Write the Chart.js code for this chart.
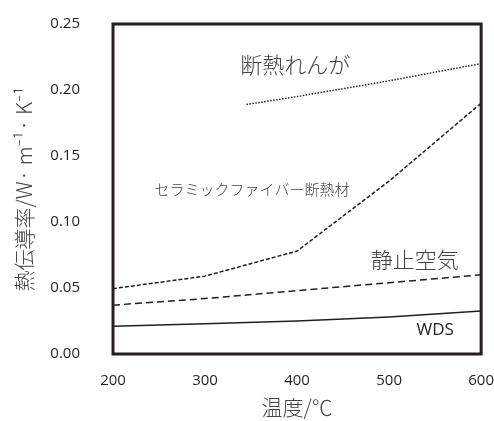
<!DOCTYPE html>
<html>
<head>
<meta charset="utf-8">
<script src="https://cdn.jsdelivr.net/npm/chart.js@4.4.1/dist/chart.umd.min.js"></script>
<style>
    html, body { margin: 0; padding: 0; background: #ffffff; }
    #wrap { width: 494px; height: 421px; }
</style>
</head>
<body>
<div id="wrap"><canvas id="chart" width="494" height="421"></canvas></div>
<script>
// temperature (°C) and thermal conductivity (W·m-1·K-1)
const brickTemps = [345, 400, 500, 600];
const brickValues = [0.189, 0.195, 0.207, 0.220];

const fiberTemps = [200, 300, 400, 500, 600];
const fiberValues = [0.0495, 0.059, 0.078, 0.131, 0.190];

const airTemps = [200, 300, 400, 500, 600];
const airValues = [0.037, 0.042, 0.048, 0.054, 0.060];

const wdsTemps = [200, 300, 400, 500, 600];
const wdsValues = [0.021, 0.023, 0.025, 0.028, 0.0325];

const xTicks = [200, 300, 400, 500, 600];
const yTicks = [0.00, 0.05, 0.10, 0.15, 0.20, 0.25];

const ink = '#231f20';
const jpFont = '"Noto Sans CJK JP", "Noto Sans", sans-serif';
const numFont = '"Open Sans", sans-serif';

function toPoints(xs, ys) {
    return xs.map((x, i) => ({ x: x, y: ys[i] }));
}

// curve labels, anchored in data coordinates
const curveLabels = [
    { text: '断熱れんが', x: 398, y: 0.2195, font: '300 22px ' + jpFont },
    { text: 'セラミックファイバー断熱材', x: 351, y: 0.125, font: '300 15px ' + jpFont },
    { text: '静止空気', x: 528, y: 0.0715, font: '300 22px ' + jpFont },
    { text: 'WDS', x: 550, y: 0.018, font: '17px ' + numFont }
];

const frameAndLabels = {
    id: 'frameAndLabels',
    afterDatasetsDraw(chart) {
        const ctx = chart.ctx;
        const a = chart.chartArea;
        const xs = chart.scales.x;
        const ys = chart.scales.y;
        ctx.save();
        ctx.textAlign = 'center';
        ctx.textBaseline = 'middle';
        curveLabels.forEach(l => {
            ctx.font = l.font;
            ctx.fillStyle = l.text === 'WDS' ? ink : '#444444';
            ctx.fillText(l.text, xs.getPixelForValue(l.x), ys.getPixelForValue(l.y));
        });
        ctx.strokeStyle = ink;
        ctx.lineWidth = 3;
        ctx.strokeRect(a.left, a.top, a.right - a.left, a.bottom - a.top);
        ctx.restore();
    }
};

const lineStyle = {
    showLine: true,
    pointRadius: 0,
    borderColor: ink,
    borderWidth: 1.5,
    fill: false,
    tension: 0
};

// invisible tick marks keep the labels away from the frame
function hiddenTicks(len) {
    return {
        display: true,
        drawOnChartArea: false,
        drawTicks: true,
        tickLength: len,
        color: 'rgba(0,0,0,0)'
    };
}

new Chart(document.getElementById('chart').getContext('2d'), {
    type: 'scatter',
    data: {
        datasets: [
            Object.assign({ label: '断熱れんが', data: toPoints(brickTemps, brickValues), borderDash: [1.5, 1.5] }, lineStyle),
            Object.assign({ label: 'セラミックファイバー断熱材', data: toPoints(fiberTemps, fiberValues), borderDash: [4, 2] }, lineStyle),
            Object.assign({ label: '静止空気', data: toPoints(airTemps, airValues), borderDash: [7, 4] }, lineStyle),
            Object.assign({ label: 'WDS', data: toPoints(wdsTemps, wdsValues) }, lineStyle)
        ]
    },
    options: {
        responsive: false,
        animation: false,
        layout: { padding: { left: 0, top: 24, right: 11, bottom: 0 } },
        plugins: {
            legend: { display: false },
            tooltip: { enabled: false }
        },
        scales: {
            x: {
                type: 'linear',
                min: 200,
                max: 600,
                afterBuildTicks: scale => { scale.ticks = xTicks.map(v => ({ value: v })); },
                afterFit: scale => { scale.height = 67; },
                grid: hiddenTicks(18),
                border: { display: false },
                ticks: {
                    padding: 0,
                    color: ink,
                    font: { family: numFont, size: 15 }
                },
                title: {
                    display: true,
                    text: '温度/℃',
                    color: '#444444',
                    padding: { top: 0, bottom: 1 },
                    font: { family: jpFont, size: 21, weight: 300 }
                }
            },
            y: {
                type: 'linear',
                min: 0,
                max: 0.25,
                afterBuildTicks: scale => { scale.ticks = yTicks.map(v => ({ value: v })); },
                afterFit: scale => { scale.width = 113; },
                grid: hiddenTicks(33),
                border: { display: false },
                ticks: {
                    padding: 0,
                    color: ink,
                    font: { family: numFont, size: 15 },
                    callback: v => v.toFixed(2)
                },
                title: {
                    display: true,
                    text: '熱伝導率/W· m⁻¹· K⁻¹',
                    color: '#444444',
                    padding: { top: 11, bottom: 0 },
                    font: { family: jpFont, size: 21, weight: 300 }
                }
            }
        }
    },
    plugins: [frameAndLabels]
});
</script>
</body>
</html>
